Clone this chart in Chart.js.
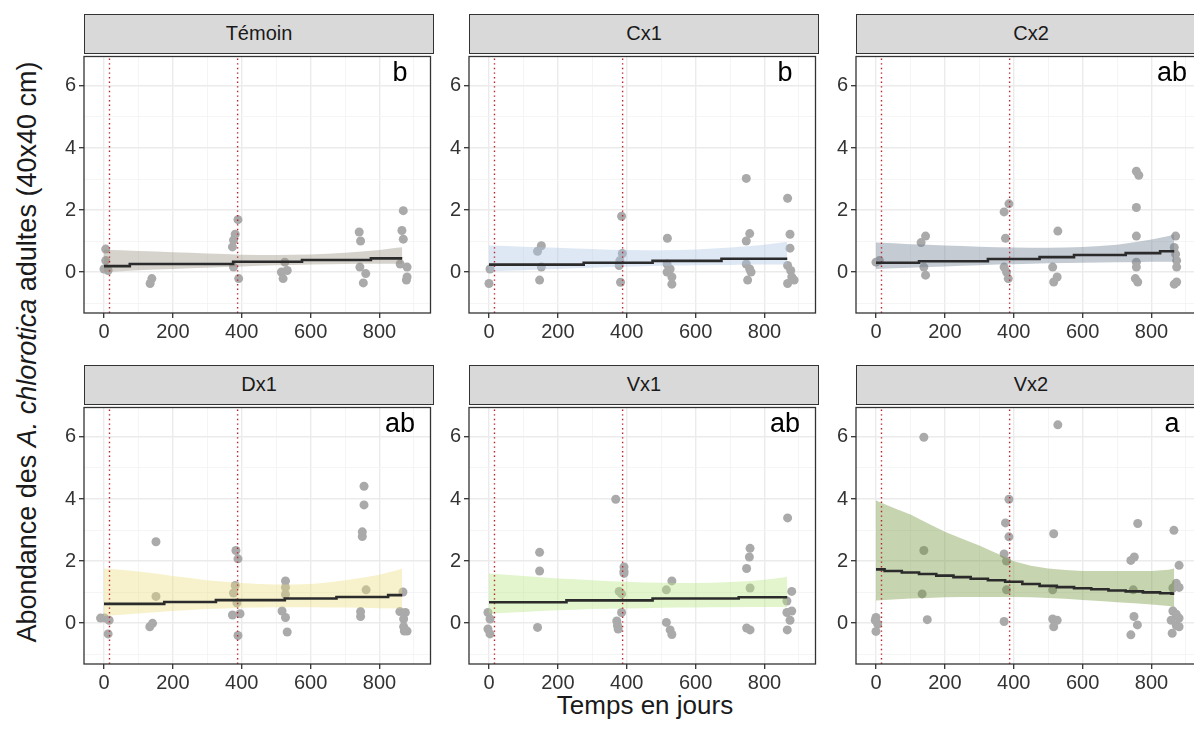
<!DOCTYPE html>
<html>
<head>
<meta charset="utf-8">
<script src="https://cdn.jsdelivr.net/npm/chart.js@4.4.1/dist/chart.umd.min.js"></script>
<style>
  body { margin: 0; background: #fff; overflow: hidden; }
  #fig { position: relative; width: 1194px; height: 745px; overflow: hidden; font-family: "Liberation Sans", Arial, sans-serif; }
  .box { position: absolute; }
  .strip { position: absolute; box-sizing: border-box; height: 40px; background: #d9d9d9; border: 1.3px solid #333;
           text-align: center; line-height: 37px; font-size: 20px; color: #1a1a1a; }
  .letter { position: absolute; font-size: 27px; color: #000; transform: translate(-50%, -50%); }
  #ytitle { position: absolute; left: 27px; top: 352px; transform: translate(-50%, -50%) rotate(-90deg);
            white-space: nowrap; font-size: 27px; color: #1a1a1a; }
  #xtitle { position: absolute; left: 645px; top: 705px; transform: translate(-50%, -50%);
            white-space: nowrap; font-size: 26px; color: #1a1a1a; }
</style>
</head>
<body>
<div id="fig">
  <div id="ytitle">Abondance des <i>A. chlorotica</i> adultes (40x40 cm)</div>
  <div id="xtitle">Temps en jours</div>
</div>
<script>
// facets and significance letters
const groups = ['Témoin', 'Cx1', 'Cx2', 'Dx1', 'Vx1', 'Vx2'];
const letters = ['b', 'b', 'ab', 'ab', 'ab', 'a'];

// axes
const xTicks = [0, 100, 200, 300, 400, 500, 600, 700, 800, 900];
const xLabels = [0, 200, 400, 600, 800];
const yTicks = [-1, 0, 1, 2, 3, 4, 5, 6];
const yLabels = [0, 2, 4, 6];
const xRange = [-58, 948];
const yRange = [-1.32, 6.95];

// sampling dates (dotted lines)
const markDays = [16, 388];

// fitted model, evaluated on these days
const fitDays = [0, 50, 100, 150, 200, 250, 300, 350, 400, 450, 500, 550, 600, 650, 700, 750, 800, 850, 866];

// Témoin
const temoinDays = [5, 5, 0, 12, 139, 134, 389, 381, 376, 373, 376, 391, 525, 515, 520, 532, 741, 745, 743, 760, 753, 869, 865, 869, 860, 880, 880, 878];
const temoinCounts = [0.74, 0.37, 0.10, 0.05, -0.21, -0.37, 1.69, 1.22, 1.03, 0.81, 0.16, -0.21, 0.32, 0.0, -0.21, 0.05, 1.29, 1.0, 0.16, -0.05, -0.35, 1.98, 1.34, 1.06, 0.26, 0.16, -0.16, -0.26];
const temoinFit = [.19, .19, .26, .26, .26, .26, .26, .26, .33, .33, .33, .33, .39, .39, .39, .39, .44, .44, .44];
const temoinLow = [0, .03, .06, .08, .1, .12, .14, .16, .18, .2, .22, .23, .24, .25, .26, .27, .27, .27, .27];
const temoinHigh = [.72, .7, .68, .66, .64, .62, .6, .58, .56, .55, .55, .56, .57, .59, .62, .66, .71, .78, .8];

// Cx1
const cx1Days = [0, 3, 141, 152, 152, 147, 385, 387, 380, 378, 382, 518, 517, 526, 531, 531, 517, 747, 757, 747, 747, 757, 761, 751, 867, 874, 874, 867, 876, 879, 867, 886];
const cx1Counts = [-0.37, 0.10, 0.67, 0.85, 0.16, -0.26, 1.80, 0.60, 0.37, 0.21, -0.33, 1.09, 0.26, 0.10, -0.16, -0.39, 0.0, 3.02, 1.24, 1.0, 0.26, 0.10, 0.0, -0.26, 2.38, 1.22, 0.77, 0.21, 0.05, -0.16, -0.37, -0.26];
const cx1Fit = [.24, .24, .24, .24, .24, .24, .3, .3, .3, .3, .36, .36, .36, .36, .43, .43, .43, .43, .43];
const cx1Low = [.02, .04, .06, .08, .1, .12, .14, .16, .17, .19, .2, .21, .22, .23, .23, .24, .24, .24, .24];
const cx1High = [.86, .84, .82, .8, .78, .76, .74, .72, .71, .7, .7, .71, .73, .76, .79, .83, .88, .95, .98];

// Cx2
const cx2Days = [0, 10, 131, 144, 139, 144, 372, 386, 376, 372, 379, 384, 528, 513, 526, 516, 756, 763, 756, 756, 756, 756, 753, 760, 870, 866, 873, 873, 873, 866, 870];
const cx2Counts = [0.32, 0.37, 0.95, 1.16, 0.16, -0.10, 1.94, 2.20, 1.09, 0.16, 0.0, -0.21, 1.32, 0.16, -0.16, -0.32, 3.25, 3.12, 2.08, 1.16, 0.32, 0.16, -0.21, -0.32, 1.16, 0.79, 0.37, 0.16, -0.32, -0.39, 0.58];
const cx2Fit = [.3, .3, .3, .35, .35, .35, .35, .42, .42, .42, .48, .48, .55, .55, .55, .61, .61, .67, .67];
const cx2Low = [.1, .12, .14, .16, .18, .2, .22, .24, .25, .27, .28, .29, .3, .31, .32, .32, .33, .33, .33];
const cx2High = [.95, .93, .9, .88, .86, .84, .82, .8, .79, .78, .78, .79, .81, .84, .88, .96, 1.05, 1.16, 1.22];

// Dx1
const dx1Days = [-10, 2, 15, 12, 133, 141, 151, 151, 383, 389, 381, 376, 386, 373, 395, 389, 527, 527, 527, 517, 527, 532, 755, 755, 750, 750, 761, 745, 745, 868, 859, 875, 870, 870, 880, 872];
const dx1Counts = [0.16, 0.16, 0.09, -0.35, -0.12, -0.01, 2.62, 0.86, 2.34, 2.07, 1.21, 0.97, 0.65, 0.26, 0.30, -0.40, 1.36, 1.15, 0.92, 0.39, 0.18, -0.29, 4.41, 3.81, 2.94, 2.79, 1.07, 0.37, 0.21, 1.0, 0.37, 0.34, 0.13, -0.12, -0.26, -0.26];
const dx1Fit = [.62, .62, .62, .62, .68, .68, .68, .74, .74, .74, .74, .79, .79, .79, .84, .84, .84, .9, .9];
const dx1Low = [.23, .27, .31, .35, .39, .42, .45, .47, .49, .5, .51, .51, .51, .5, .5, .49, .48, .47, .47];
const dx1High = [1.76, 1.72, 1.66, 1.6, 1.52, 1.45, 1.38, 1.33, 1.29, 1.26, 1.24, 1.24, 1.26, 1.31, 1.38, 1.46, 1.56, 1.7, 1.76];

// Vx1
const vx1Days = [-3, 3, -3, 3, 147, 147, 141, 368, 392, 392, 392, 378, 385, 385, 371, 373, 375, 515, 531, 515, 526, 531, 758, 756, 748, 758, 748, 758, 867, 879, 865, 865, 879, 874, 866];
const vx1Counts = [0.34, 0.13, -0.19, -0.35, 2.28, 1.68, -0.14, 3.99, 1.81, 1.67, 1.60, 1.02, 0.94, 0.34, 0.07, -0.08, -0.19, 1.07, 1.36, 0.02, -0.22, -0.37, 2.41, 2.13, 1.76, 1.13, -0.16, -0.22, 3.39, 1.02, 0.71, 0.34, 0.39, 0.09, -0.22];
const vx1Fit = [.67, .67, .67, .67, .67, .73, .73, .73, .73, .73, .79, .79, .79, .79, .79, .83, .83, .83, .83];
const vx1Low = [.3, .33, .36, .39, .41, .43, .45, .46, .47, .48, .49, .5, .5, .51, .51, .52, .52, .52, .52];
const vx1High = [1.6, 1.56, 1.52, 1.48, 1.44, 1.41, 1.38, 1.35, 1.33, 1.31, 1.3, 1.29, 1.29, 1.3, 1.32, 1.35, 1.4, 1.46, 1.49];

// Vx2
const vx2Days = [0, 5, 0, -2, 139, 139, 134, 149, 386, 376, 386, 372, 379, 379, 372, 528, 516, 513, 513, 526, 516, 760, 750, 740, 747, 749, 759, 740, 865, 880, 872, 880, 862, 862, 872, 857, 880, 872, 860, 880];
const vx2Counts = [0.18, -0.03, -0.27, 0.09, 5.99, 2.34, 0.94, 0.11, 3.99, 3.23, 2.78, 2.23, 2.0, 1.07, 0.05, 6.39, 2.88, 1.07, 0.13, 0.09, -0.12, 3.21, 2.13, 2.02, 1.07, 0.21, -0.06, -0.38, 2.99, 1.86, 1.28, 1.15, 1.13, 0.39, 0.28, 0.09, 0.16, -0.08, -0.33, -0.12];
const vx2Fit = [1.73, 1.68, 1.63, 1.58, 1.53, 1.48, 1.43, 1.38, 1.33, 1.26, 1.2, 1.16, 1.12, 1.09, 1.05, 1.02, .99, .96, .95];
const vx2Low = [.73, .76, .79, .81, .83, .84, .84, .84, .84, .83, .81, .78, .74, .71, .67, .64, .6, .55, .52];
const vx2High = [3.95, 3.72, 3.5, 3.22, 2.94, 2.72, 2.5, 2.25, 1.99, 1.85, 1.76, 1.71, 1.68, 1.68, 1.68, 1.68, 1.68, 1.72, 1.76];

const ribbonColors = ['rgba(153,145,130,0.4)', 'rgba(173,198,228,0.4)', 'rgba(108,125,145,0.4)',
                      'rgba(235,223,128,0.4)', 'rgba(183,230,128,0.4)', 'rgba(113,148,58,0.4)'];

const series = [
  [temoinDays, temoinCounts, temoinFit, temoinLow, temoinHigh],
  [cx1Days, cx1Counts, cx1Fit, cx1Low, cx1High],
  [cx2Days, cx2Counts, cx2Fit, cx2Low, cx2High],
  [dx1Days, dx1Counts, dx1Fit, dx1Low, dx1High],
  [vx1Days, vx1Counts, vx1Fit, vx1Low, vx1High],
  [vx2Days, vx2Counts, vx2Fit, vx2Low, vx2High]
];

// layout of the facet grid
const panelLeft = [84, 469, 856];
const plotTop = [53, 404];
const panelW = 350, plotH = 260, yAxisW = 40, xAxisH = 35;
const font = { family: '"Liberation Sans", Arial, sans-serif', size: 20 };

const panelBorder = {
  id: 'panelBorder',
  afterDraw(chart) {
    const a = chart.chartArea, c = chart.ctx;
    c.save();
    c.strokeStyle = '#333';
    c.lineWidth = 1.3;
    c.strokeRect(a.left, a.top, a.right - a.left, a.bottom - a.top);
    c.restore();
  }
};

const fig = document.getElementById('fig');

groups.forEach(function(name, i) {
  const col = i % 3, row = Math.floor(i / 3);
  const left = panelLeft[col], top = plotTop[row];
  const [days, counts, fit, low, high] = series[i];

  const strip = document.createElement('div');
  strip.className = 'strip';
  strip.style.left = left + 'px';
  strip.style.top = (top - 39) + 'px';
  strip.style.width = panelW + 'px';
  strip.textContent = name;

  const box = document.createElement('div');
  box.className = 'box';
  box.style.left = (left - yAxisW) + 'px';
  box.style.top = (top - 1) + 'px';
  const canvas = document.createElement('canvas');
  canvas.width = panelW + yAxisW + 1;
  canvas.height = plotH + xAxisH + 1;
  box.appendChild(canvas);
  fig.appendChild(box);
  fig.appendChild(strip);

  const letter = document.createElement('div');
  letter.className = 'letter';
  letter.style.left = (left + panelW - 34) + 'px';
  letter.style.top = (top + 19) + 'px';
  letter.textContent = letters[i];
  fig.appendChild(letter);

  const pts = (xs, ys) => xs.map((x, k) => ({ x: x, y: ys[k] }));
  const vline = d => ({
    type: 'line', data: [{ x: d, y: yRange[0] }, { x: d, y: yRange[1] }],
    borderColor: '#b5252a', borderWidth: 1.4, borderDash: [1.4, 3.2], pointRadius: 0, order: 1
  });

  new Chart(canvas, {
    type: 'line',
    data: {
      datasets: [
        { data: pts(fitDays, fit), borderColor: '#2b2b2b', borderWidth: 2.6, pointRadius: 0, stepped: 'middle', order: 0 },
        vline(markDays[0]),
        vline(markDays[1]),
        { data: pts(fitDays, low), borderWidth: 0, pointRadius: 0, fill: false, order: 2 },
        { data: pts(fitDays, high), borderWidth: 0, pointRadius: 0, fill: '-1', backgroundColor: ribbonColors[i], order: 2 },
        { data: pts(days, counts), showLine: false, pointRadius: 4.5, pointBorderWidth: 0, pointBackgroundColor: '#aaaaaa', order: 3 }
      ]
    },
    options: {
      responsive: false,
      animation: false,
      layout: { padding: { top: 1, right: 1 } },
      plugins: { legend: { display: false }, tooltip: { enabled: false } },
      scales: {
        x: {
          type: 'linear', min: xRange[0], max: xRange[1],
          afterBuildTicks: s => { s.ticks = xTicks.map(v => ({ value: v })); },
          afterFit: s => { s.height = xAxisH; s.paddingLeft = 0; s.paddingRight = 0; },
          ticks: { callback: v => xLabels.includes(v) ? String(v) : '', color: '#333', font: font, padding: 2, maxRotation: 0, autoSkip: false },
          grid: {
            color: c => xLabels.includes(c.tick.value) ? '#ebebeb' : '#f3f3f3',
            lineWidth: c => xLabels.includes(c.tick.value) ? 1.4 : 0.8,
            tickColor: c => xLabels.includes(c.tick.value) ? '#333' : 'rgba(0,0,0,0)',
            tickLength: 5, tickWidth: 1.3
          },
          border: { display: false }
        },
        y: {
          type: 'linear', min: yRange[0], max: yRange[1],
          afterBuildTicks: s => { s.ticks = yTicks.map(v => ({ value: v })); },
          afterFit: s => { s.width = yAxisW; s.paddingTop = 0; s.paddingBottom = 0; },
          ticks: { callback: v => yLabels.includes(v) ? String(v) : '', color: '#333', font: font, padding: 3, autoSkip: false },
          grid: {
            color: c => yLabels.includes(c.tick.value) ? '#ebebeb' : '#f3f3f3',
            lineWidth: c => yLabels.includes(c.tick.value) ? 1.4 : 0.8,
            tickColor: c => yLabels.includes(c.tick.value) ? '#333' : 'rgba(0,0,0,0)',
            tickLength: 5, tickWidth: 1.3
          },
          border: { display: false }
        }
      }
    },
    plugins: [panelBorder]
  });
});
</script>
</body>
</html>
